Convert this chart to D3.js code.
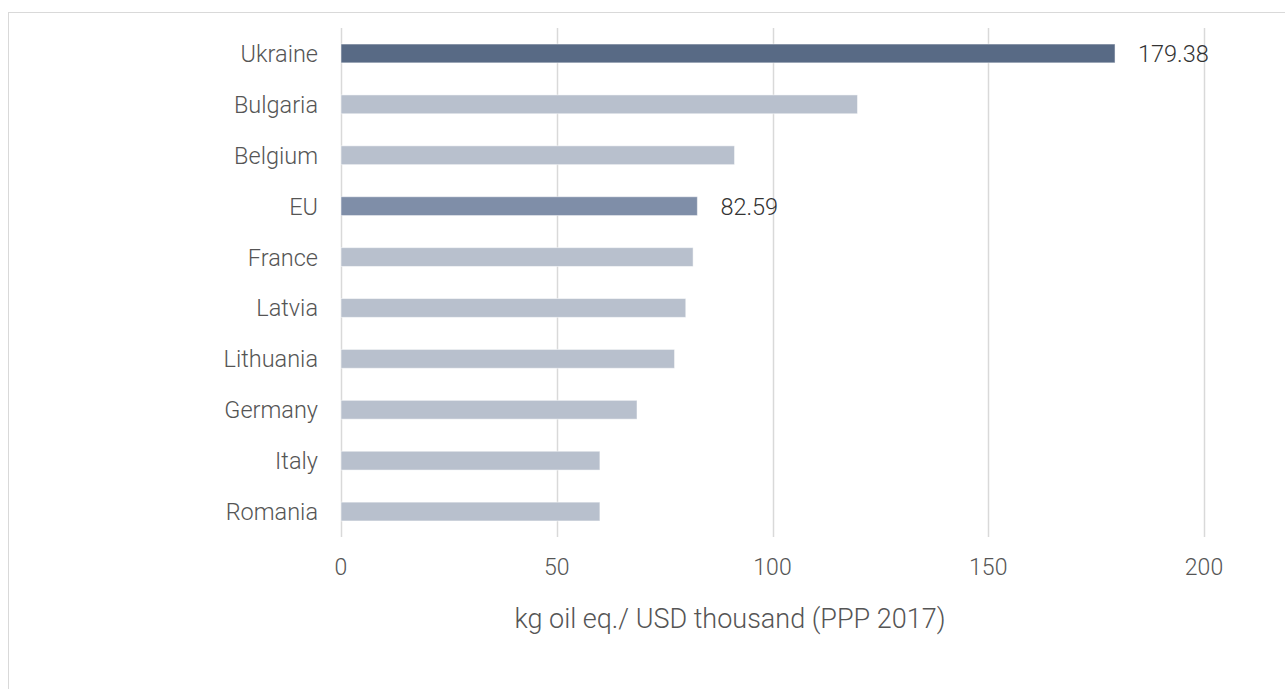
<!DOCTYPE html>
<html>
<head>
<meta charset="utf-8">
<script src="https://cdn.jsdelivr.net/npm/d3@7"></script>
<style>
  body { margin: 0; background: #fff; }
  svg { display: block; font-family: Roboto, "Noto Sans", sans-serif; font-weight: 300; }
</style>
</head>
<body>
<script>
// values
var countries = ["Ukraine", "Bulgaria", "Belgium", "EU", "France", "Latvia", "Lithuania", "Germany", "Italy", "Romania"];
var values = [179.38, 119.7, 91.2, 82.59, 81.6, 79.9, 77.3, 68.6, 60.0, 60.0];
var xTicks = [0, 50, 100, 150, 200];
var highlight = { "Ukraine": "#586a85", "EU": "#7f8ea8" };
var shownLabels = ["Ukraine", "EU"];

var width = 1285;
var height = 689;

var plot = { left: 341, right: 1204, top: 28, bottom: 537 };

var svg = d3.select("body")
  .append("svg")
  .attr("width", width)
  .attr("height", height);

// container frame, runs off the right and bottom edges
svg.append("rect")
  .attr("x", 8.5)
  .attr("y", 12.5)
  .attr("width", width + 20)
  .attr("height", height + 20)
  .attr("fill", "none")
  .attr("stroke", "#d9d9d9");

var x = d3.scaleLinear().domain([0, 200]).range([plot.left, plot.right]);

var y = d3.scaleBand()
  .domain(countries)
  .range([plot.top, plot.bottom])
  .paddingInner(0.63)
  .paddingOuter(0.315);

var data = countries.map(function(c, i) {
  return { country: c, value: values[i] };
});

// vertical grid
svg.append("g")
  .selectAll("line")
  .data(xTicks)
  .enter()
  .append("line")
  .attr("x1", function(d) { return Math.round(x(d)) + 0.5; })
  .attr("x2", function(d) { return Math.round(x(d)) + 0.5; })
  .attr("y1", plot.top)
  .attr("y2", plot.bottom)
  .attr("stroke", "#d9d9d9")
  .attr("stroke-width", 1.5);

// tick labels
svg.append("g")
  .selectAll("text")
  .data(xTicks)
  .enter()
  .append("text")
  .attr("x", function(d) { return x(d); })
  .attr("y", 575)
  .attr("text-anchor", "middle")
  .attr("font-size", 23)
  .attr("fill", "#555555")
  .text(function(d) { return d; });

// bars
svg.append("g")
  .selectAll("rect")
  .data(data)
  .enter()
  .append("rect")
  .attr("x", x(0))
  .attr("y", function(d) { return y(d.country); })
  .attr("width", function(d) { return x(d.value) - x(0); })
  .attr("height", y.bandwidth())
  .attr("fill", function(d) { return highlight[d.country] || "#b8c0cd"; })
  .attr("stroke", "#ffffff")
  .attr("stroke-opacity", 0.5)
  .attr("stroke-width", 1);

// category labels
svg.append("g")
  .selectAll("text")
  .data(countries)
  .enter()
  .append("text")
  .attr("x", 318)
  .attr("y", function(d) { return y(d) + y.bandwidth() / 2; })
  .attr("dy", "0.36em")
  .attr("text-anchor", "end")
  .attr("font-size", 23.5)
  .attr("fill", "#555555")
  .text(function(d) { return d; });

// value labels
svg.append("g")
  .selectAll("text")
  .data(data.filter(function(d) { return shownLabels.indexOf(d.country) >= 0; }))
  .enter()
  .append("text")
  .attr("x", function(d) { return x(d.value) + 23; })
  .attr("y", function(d) { return y(d.country) + y.bandwidth() / 2; })
  .attr("dy", "0.36em")
  .attr("font-size", 23.5)
  .attr("fill", "#333333")
  .text(function(d) { return d.value.toFixed(2); });

// axis title
svg.append("text")
  .attr("x", 730)
  .attr("y", 628)
  .attr("text-anchor", "middle")
  .attr("font-size", 27)
  .attr("fill", "#555555")
  .text("kg oil eq./ USD thousand (PPP 2017)");
</script>
</body>
</html>
